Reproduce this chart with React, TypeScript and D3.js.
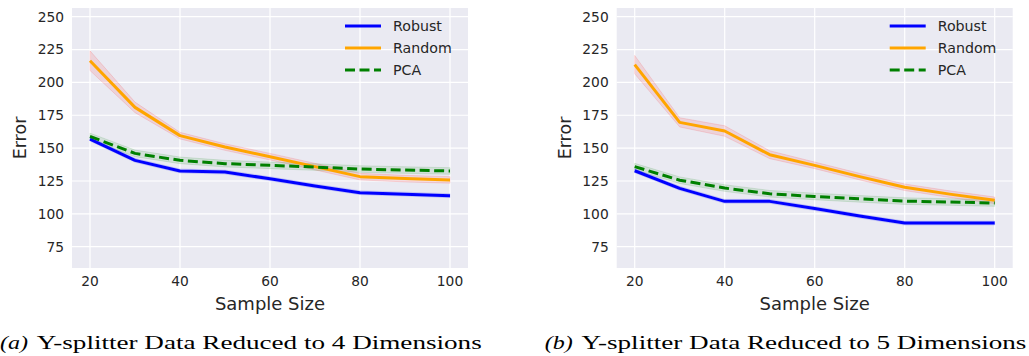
import React from "react";
import * as d3 from "d3";

const sampleSizes = [20, 30, 40, 50, 60, 70, 80, 90, 100];
const xTicks = [20, 40, 60, 80, 100];
const yTicks = [75, 100, 125, 150, 175, 200, 225, 250];

const robustA = [156.9, 140.7, 132.6, 131.8, 126.7, 121.2, 116.1, 115.0, 113.8];
const randomA = [216.5, 181.0, 159.5, 150.8, 143.5, 135.9, 128.3, 126.8, 125.8];
const pcaA = [158.9, 146.0, 140.7, 138.2, 136.9, 135.6, 134.1, 133.3, 132.6];

const robustB = [132.8, 119.4, 109.5, 109.5, 104.0, 98.3, 93.0, 93.0, 93.0];
const randomB = [213.5, 169.6, 163.0, 145.0, 136.9, 128.3, 120.2, 115.0, 110.3];
const pcaB = [135.9, 125.6, 119.6, 115.3, 113.2, 111.4, 109.7, 109.0, 108.2];

const robustBandA = [1.5, 1.5, 1.5, 1.5, 1.5, 1.5, 1.5, 1.5, 1.5];
const randomBandA = [7.5, 4.0, 2.5, 2.5, 2.5, 2.5, 2.5, 2.5, 2.5];
const pcaBandA = [2.5, 2.5, 2.5, 2.5, 2.5, 2.5, 2.5, 2.5, 2.5];

const robustBandB = [1.5, 1.5, 1.5, 1.5, 1.5, 1.5, 1.5, 1.5, 1.5];
const randomBandB = [7.0, 3.5, 4.0, 3.0, 2.5, 2.5, 2.5, 2.5, 2.5];
const pcaBandB = [2.5, 2.5, 2.5, 2.5, 2.5, 2.5, 2.5, 2.5, 2.5];

const seriesNames = ["Robust", "Random", "PCA"];
const seriesColors = ["#0000ff", "#ffa500", "#008000"];
const bandColors = ["#0000ff", "#ff0000", "#008000"];

const captionLabels = ["(a)", "(b)"];
const captionTexts = [
  "Y-splitter Data Reduced to 4 Dimensions",
  "Y-splitter Data Reduced to 5 Dimensions",
];

const SANS = "'DejaVu Sans', sans-serif";
const SERIF = "'Liberation Serif', 'DejaVu Serif', serif";

type PanelProps = {
  left: number;
  series: number[][];
  bands: number[][];
  label: string;
  caption: string;
};

function Panel({ left, series, bands, label, caption }: PanelProps) {
  const plotW = 396;
  const top = 8;
  const bottom = 268;
  const x = d3.scaleLinear().domain([16, 104]).range([left, left + plotW]);
  const y = d3.scaleLinear().domain([58.8, 256.6]).range([bottom, top]);

  const line = d3
    .line<number>()
    .x((_, i) => x(sampleSizes[i]))
    .y((d) => y(d));

  const area = (vals: number[], hw: number[]) =>
    d3
      .area<number>()
      .x((_, i) => x(sampleSizes[i]))
      .y0((d, i) => y(d - hw[i]))
      .y1((d, i) => y(d + hw[i]))(vals) as string;

  const legendX0 = left + 273;
  const legendY0 = 26;
  const legendDy = 22;

  return (
    <g>
      <rect x={left} y={top} width={plotW} height={bottom - top} fill="#eaeaf2" />
      {yTicks.map((t) => (
        <line
          key={"gy" + t}
          x1={left}
          x2={left + plotW}
          y1={y(t)}
          y2={y(t)}
          stroke="#ffffff"
          strokeWidth={1.2}
        />
      ))}
      {xTicks.map((t) => (
        <line
          key={"gx" + t}
          x1={x(t)}
          x2={x(t)}
          y1={top}
          y2={bottom}
          stroke="#ffffff"
          strokeWidth={1.2}
        />
      ))}
      {series.map((vals, k) => (
        <path
          key={"band" + k}
          d={area(vals, bands[k])}
          fill={bandColors[k]}
          fillOpacity={0.1}
          stroke={bandColors[k]}
          strokeOpacity={0.12}
          strokeWidth={1}
        />
      ))}
      {series.map((vals, k) => (
        <path
          key={"line" + k}
          d={line(vals) as string}
          fill="none"
          stroke={seriesColors[k]}
          strokeWidth={3}
          strokeDasharray={k === 2 ? "10,4.5" : undefined}
          strokeLinejoin="round"
        />
      ))}
      {yTicks.map((t) => (
        <text
          key={"ty" + t}
          x={left - 8}
          y={y(t)}
          dy="0.35em"
          textAnchor="end"
          fontFamily={SANS}
          fontSize={13.8}
          fill="#262626"
        >
          {t}
        </text>
      ))}
      {xTicks.map((t) => (
        <text
          key={"tx" + t}
          x={x(t)}
          y={286}
          textAnchor="middle"
          fontFamily={SANS}
          fontSize={13.8}
          fill="#262626"
        >
          {t}
        </text>
      ))}
      <text
        x={left + plotW / 2}
        y={310}
        textAnchor="middle"
        fontFamily={SANS}
        fontSize={18}
        fill="#262626"
      >
        Sample Size
      </text>
      <text
        transform={`translate(${left - 46},${(top + bottom) / 2}) rotate(-90)`}
        textAnchor="middle"
        fontFamily={SANS}
        fontSize={17.5}
        fill="#262626"
      >
        Error
      </text>
      {seriesNames.map((name, k) => (
        <g key={"leg" + k}>
          <line
            x1={legendX0}
            x2={legendX0 + 36}
            y1={legendY0 + k * legendDy}
            y2={legendY0 + k * legendDy}
            stroke={seriesColors[k]}
            strokeWidth={3}
            strokeDasharray={k === 2 ? "10,4.5" : undefined}
          />
          <text
            x={legendX0 + 48}
            y={legendY0 + k * legendDy}
            dy="0.35em"
            fontFamily={SANS}
            fontSize={14.2}
            fill="#262626"
          >
            {name}
          </text>
        </g>
      ))}
      <text
        x={left - 72}
        y={349}
        fontFamily={SERIF}
        fontStyle="italic"
        fontSize={19}
        fill="#000"
        textLength={28}
        lengthAdjust="spacingAndGlyphs"
      >
        {label}
      </text>
      <text
        x={left - 35.3}
        y={349}
        fontFamily={SERIF}
        fontSize={19}
        fill="#000"
        textLength={445}
        lengthAdjust="spacingAndGlyphs"
      >
        {caption}
      </text>
    </g>
  );
}

export default function App() {
  return (
    <svg
      width={1029}
      height={356}
      style={{ position: "absolute", left: 0, top: 0, background: "#ffffff" }}
    >
      <rect x={0} y={0} width={1029} height={356} fill="#ffffff" />
      <Panel
        left={72}
        series={[robustA, randomA, pcaA]}
        bands={[robustBandA, randomBandA, pcaBandA]}
        label={captionLabels[0]}
        caption={captionTexts[0]}
      />
      <Panel
        left={616.7}
        series={[robustB, randomB, pcaB]}
        bands={[robustBandB, randomBandB, pcaBandB]}
        label={captionLabels[1]}
        caption={captionTexts[1]}
      />
    </svg>
  );
}
